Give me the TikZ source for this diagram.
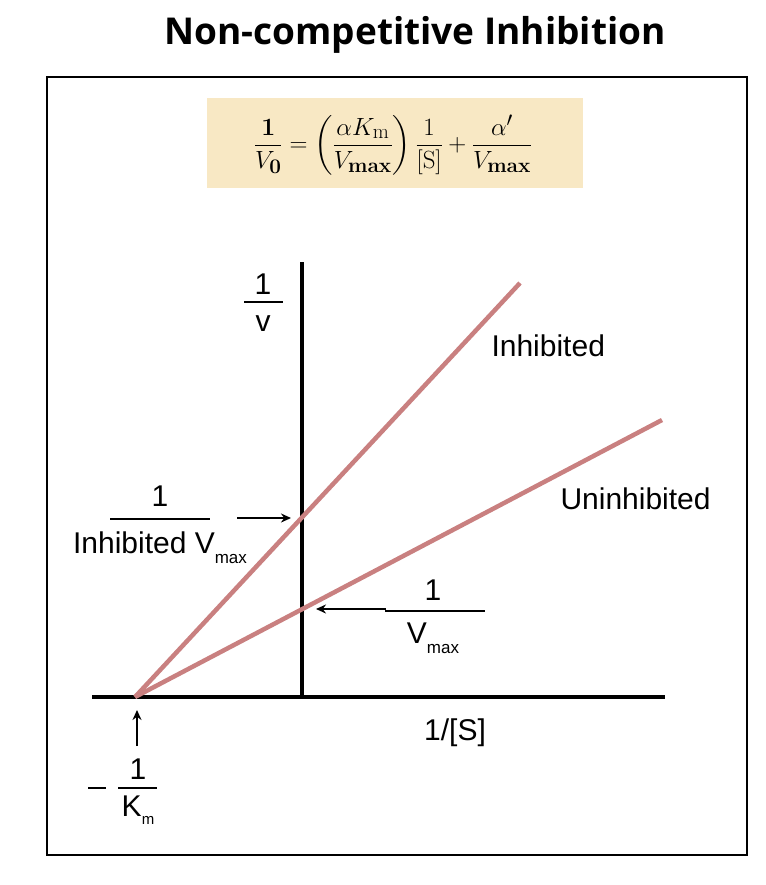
\documentclass[tikz,border=0pt]{standalone}
\usepackage{amsmath}
\usepackage[no-math]{fontspec}
\setmainfont{Liberation Sans}
\newfontfamily\titlefont{Open Sans}
\usetikzlibrary{arrows.meta}
\definecolor{pinkline}{HTML}{C98080}
\definecolor{eqbg}{HTML}{F8E8C4}
\begin{document}
\begin{tikzpicture}[x=1pt,y=-1pt,
  axis/.style={line width=4.5pt},
  plotline/.style={line width=4.5pt,pinkline},
  lab/.style={font=\fontsize{30}{34}\selectfont},
  ptr/.style={line width=1.6pt,-{Stealth[length=10pt,width=9pt]}},
  bar/.style={line width=1.3pt}]
\useasboundingbox (0,0) rectangle (765,885);
\node (title) at (415,35) {\titlefont\bfseries\fontsize{37}{42}\selectfont Non-competitive Inhibition};
\draw[line width=1.5pt] (47,77) rectangle (747,855);
\fill[eqbg] (207,98) rectangle (583,188);
\node (eq) at (393,145) {\fontsize{29}{34}\selectfont $\displaystyle \frac{\mathbf 1}{V_{\mathbf 0}} = \left(\frac{\alpha K_{\mathrm m}}{V_{\mathbf{max}}}\right)\frac{1}{[\mathrm S]} + \frac{\alpha'}{V_{\mathbf{max}}}$};
\coordinate (yt) at (302,262); \coordinate (yb) at (302,699);
\coordinate (xl) at (92,697); \coordinate (xr) at (665,697);
\draw[axis] (yt)--(yb); \draw[axis] (xl)--(xr);
\coordinate (o) at (135,697);
\coordinate (ie) at (520,283); \coordinate (ue) at (662,420);
\draw[plotline] (o)--(ie); \draw[plotline] (o)--(ue);
% 1/v
\node[lab] (v1) at (263,284) {1};
\draw[bar] (244,302)--(283,302);
\node[lab] (v2) at (263,324) {v};
\node[lab,anchor=west] (inh) at (488,346) {Inhibited};
\node[lab,anchor=west] (un) at (557,499) {Uninhibited};
% inhibited vmax
\node[lab] (i1) at (160,496) {1};
\draw[bar] (110,519)--(210,519);
\node[lab] (i2) at (160,548) {Inhibited V\raisebox{-10pt}{\fontsize{17}{17}\selectfont max}};
\coordinate (a1s) at (237,518); \coordinate (a1e) at (291,518);
\draw[ptr] (a1s)--(a1e);
% vmax
\node[lab] (m1) at (433,590) {1};
\draw[bar] (385,611)--(485,611);
\node[lab] (m2) at (433,638) {V\raisebox{-10pt}{\fontsize{17}{17}\selectfont max}};
\coordinate (a2s) at (386,609); \coordinate (a2e) at (316,609);
\draw[ptr] (a2s)--(a2e);
\node[lab] (s) at (455,733) {1/[S]};
\coordinate (a3s) at (137,746); \coordinate (a3e) at (137,710);
\draw[ptr] (a3s)--(a3e);
\draw[bar] (88,788)--(106,788);
\node[lab] (k1) at (138,769) {1};
\draw[bar] (118,788)--(157,788);
\node[lab] (k2) at (138,810) {K\raisebox{-8pt}{\fontsize{15}{15}\selectfont m}};
\end{tikzpicture}
\end{document}
